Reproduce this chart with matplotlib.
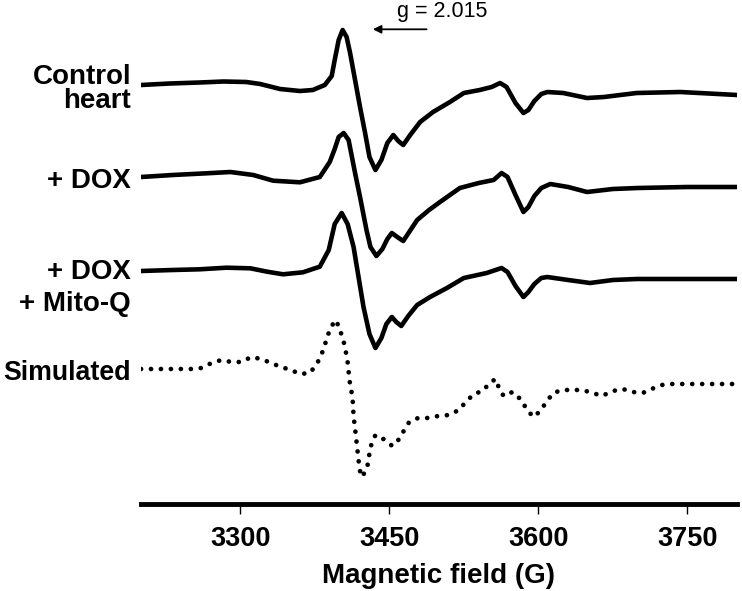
import numpy as np
import matplotlib
matplotlib.use("Agg")
import matplotlib.pyplot as plt

plt.rcParams['font.family'] = ['Liberation Sans', 'DejaVu Sans']

# EPR spectra (field in G, signal in a.u. relative to baseline)
field_ctrl = [3200, 3229, 3259, 3283, 3306, 3320, 3340, 3360, 3373, 3385, 3392, 3395,
              3399, 3403, 3407, 3410.5, 3415.5, 3420.5, 3425.6, 3430, 3436, 3442, 3448, 3454,
              3459, 3464, 3471, 3481, 3494, 3511, 3525, 3541, 3553, 3561.5, 3568, 3577,
              3585, 3590, 3596, 3603, 3609, 3625, 3649, 3666, 3699, 3743, 3800]
ctrl = [0, 1.5, 2.5, 3.5, 3, 1, -4, -6, -5, 0, 9, 25,
        45, 55, 48, 32, 5, -22, -48, -72, -85, -75, -58, -50,
        -56, -60, -50, -37, -27, -17, -8, -5, -2, 2, -2, -18,
        -28, -25, -16, -9, -7, -8, -13, -12, -8, -7, -10]

field_dox = [3200, 3232, 3266, 3290, 3313, 3333, 3360, 3380, 3390, 3395, 3399, 3404,
             3409, 3415.5, 3420.5, 3427, 3431, 3437, 3443, 3448, 3452.5, 3458, 3464, 3470,
             3478, 3490, 3501, 3521, 3540, 3555, 3563, 3569, 3577, 3585, 3590, 3596,
             3603, 3612, 3630, 3649, 3675, 3700, 3750, 3800]
dox = [0, 2, 3.7, 5, 2, -3.7, -5.3, 0, 15, 28, 40, 44,
       37, 4, -20, -53, -70, -79, -72, -62, -56, -60, -64, -55,
       -43, -33, -25, -11, -6, -3, 4, 0, -18, -35, -30, -19,
       -11, -7, -10, -15, -12, -11, -10, -10]

field_mito = [3200, 3232, 3259, 3286, 3310, 3327, 3343, 3363, 3380, 3389, 3395, 3402,
              3408, 3414, 3419, 3424, 3430, 3436, 3442, 3447, 3452.5, 3457, 3462, 3469,
              3478, 3491, 3508, 3525, 3548, 3563, 3569, 3577, 3585, 3590, 3596, 3603,
              3609, 3630, 3652, 3675, 3699, 3800]
mito = [1, 2, 2.7, 4.3, 3.7, 0.3, -2.3, -0.3, 5.3, 22, 48, 59,
        48, 25, -5, -35, -62, -76, -66, -52, -45, -50, -54, -44,
        -33, -25, -16, -6, -1, 4, 0, -14, -25, -20, -12, -6,
        -5, -8, -11, -8, -7, -7]

field_sim = [3200, 3251, 3261, 3271, 3281, 3291, 3301, 3311, 3321, 3331, 3341, 3351,
             3360, 3370, 3377, 3381, 3385, 3387, 3391, 3395, 3400, 3402, 3405, 3408,
             3410, 3413, 3414, 3416, 3418, 3420, 3422, 3427, 3429, 3430, 3432, 3436,
             3444, 3453, 3460, 3465, 3470, 3479, 3490, 3499, 3510, 3520, 3527, 3535,
             3544, 3551, 3557, 3560, 3565, 3574, 3583, 3588, 3595, 3602, 3608, 3615,
             3624, 3634, 3644, 3655, 3664, 3675, 3685, 3695, 3705, 3714, 3724, 3734,
             3800]
sim = [0, 0, 1, 6, 9, 7, 7, 12, 10, 6, 2, -1,
       -5, -4, 5, 13, 23, 32, 40, 49, 42, 33, 24, 7,
       -12, -29, -47, -64, -82, -100, -108, -101, -92, -84, -75, -66,
       -70, -77, -70, -61, -53, -49, -49, -47, -46, -41, -33, -25,
       -22, -14, -10, -18, -27, -23, -31, -40, -48, -42, -33, -24,
       -21, -21, -21, -24, -27, -22, -20, -23, -24, -20, -16, -15,
       -15]

offsets = [419, 327, 232, 135]
names = [["Control", "heart"], ["+ DOX"], ["+ DOX", "+ Mito-Q"], ["Simulated"]]
label_y = [[76.7, 100.5], [180.5], [272, 304], [372.5]]  # pixel rows of label lines

W, H = 742, 591
fig = plt.figure(figsize=(W / 100, H / 100), dpi=100)
ax = fig.add_axes([141 / W, 87 / H, 596 / W, 494 / H])

traces = [(field_ctrl, ctrl), (field_dox, dox), (field_mito, mito)]
for (f, s), off in zip(traces, offsets[:3]):
    ax.plot(f, np.array(s) + off, color='black', lw=3.3, solid_capstyle='round',
            solid_joinstyle='round')
ax.plot(field_sim, np.array(sim) + offsets[3], color='black', lw=3.4,
        linestyle=(0, (0.01, 2.1)), dash_capstyle='round')

for lines, ys in zip(names, label_y):
    for txt, yy in zip(lines, ys):
        size = 19.3 if txt == "Simulated" else 20
        fig.text(131 / W, 1 - yy / H, txt, ha='right', va='center',
                 fontsize=size, fontweight='bold')

# g marker
ax.annotate('', xy=(3430.6, 474.7), xytext=(3490.3, 474.7),
            arrowprops=dict(arrowstyle='-|>', color='black', lw=1.3,
                            mutation_scale=12))
ax.text(3503.6, 492, 'g = 2.015', ha='center', va='center', fontsize=15.5)

ax.set_xlim(3200, 3800)
ax.set_ylim(0, 494)
for side in ['left', 'top', 'right']:
    ax.spines[side].set_visible(False)
ax.spines['bottom'].set_linewidth(3.5)
ax.set_yticks([])
ax.set_xticks([3300, 3450, 3600, 3750])
ax.tick_params(axis='x', direction='out', length=7, width=1, pad=9, labelsize=19.5)
for lab in ax.get_xticklabels():
    lab.set_fontweight('bold')
ax.set_xlabel('Magnetic field (G)', fontsize=20, fontweight='bold', labelpad=8)

fig.savefig('out.png', dpi=100)
